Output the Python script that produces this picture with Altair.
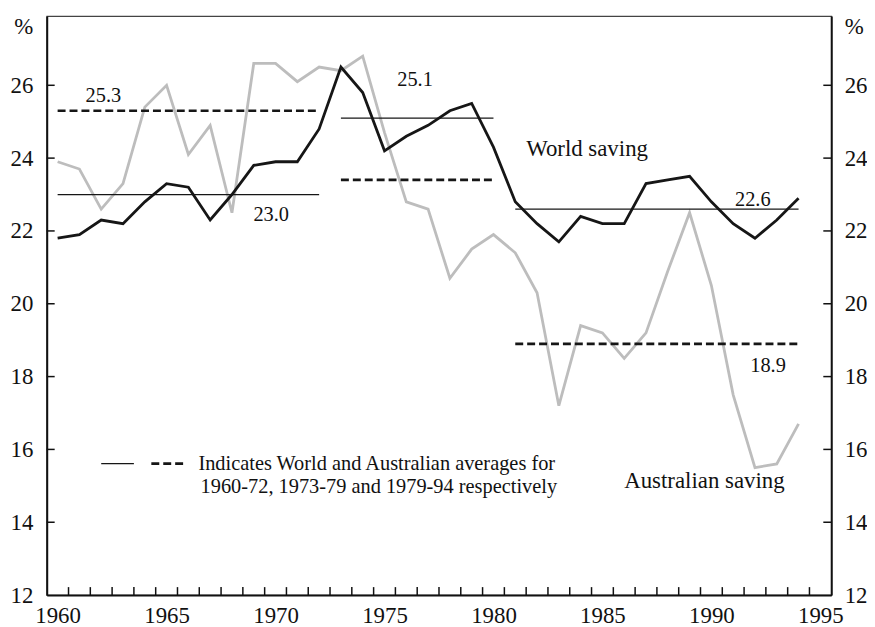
import altair as alt
import pandas as pd

# ---------------- data ----------------
years = list(range(1960, 1995))
world = [21.8, 21.9, 22.3, 22.2, 22.8, 23.3, 23.2, 22.3, 23.0, 23.8, 23.9, 23.9, 24.8,
         26.5, 25.8, 24.2, 24.6, 24.9, 25.3, 25.5, 24.3,
         22.8, 22.2, 21.7, 22.4, 22.2, 22.2, 23.3, 23.4, 23.5, 22.8, 22.2, 21.8, 22.3, 22.9]
australia = [23.9, 23.7, 22.6, 23.3, 25.4, 26.0, 24.1, 24.9, 22.5, 26.6, 26.6, 26.1, 26.5,
             26.4, 26.8, 24.7, 22.8, 22.6, 20.7, 21.5, 21.9,
             21.4, 20.3, 17.2, 19.4, 19.2, 18.5, 19.2, 20.9, 22.5, 20.5, 17.5, 15.5, 15.6, 16.7]

avg_start = [1960, 1973, 1981]
avg_end = [1972, 1980, 1994]
avg_world = [23.0, 25.1, 22.6]
avg_aus = [25.3, 23.4, 18.9]

# value labels (text, x-year, y-value)
num_text = ["25.3", "23.0", "25.1", "22.6", "18.9"]
num_x = [1962.1, 1969.8, 1976.4, 1991.9, 1992.6]
num_y = [25.54, 22.27, 25.97, 22.68, 18.13]

series_text = ["World saving", "Australian saving"]
series_x = [1981.5, 1986.0]
series_y = [24.05, 14.93]

legend_text = ["Indicates World and Australian averages for",
               "1960-72, 1973-79 and 1979-94 respectively"]
legend_x = [1966.46, 1966.56]
legend_y = [15.44, 14.80]

legend_solid = {"x": [1962.0], "x2": [1963.5], "y": [15.61]}
legend_dash = {"x": [1964.3], "x2": [1965.9], "y": [15.61]}

x_label_years = [1960, 1965, 1970, 1975, 1980, 1985, 1990, 1995]
y_label_values = [12, 14, 16, 18, 20, 22, 24, 26]
pct_pos = 27.6
x_tick_pos = [y + 0.5 for y in range(1960, 1995)]
y_tick_pos = [14, 16, 18, 20, 22, 24, 26]

# ---------------- chart ----------------
W, H = 790, 583
FONT = "Liberation Serif"

xscale = alt.Scale(domain=[1959.5, 1995.5], nice=False, zero=False)
yscale = alt.Scale(domain=[12, 27.9], nice=False, zero=False)

xaxis = alt.Axis(values=x_label_years, format="d", labelPadding=28,
                 labelBaseline="alphabetic", title=None)
yaxis_left = alt.Axis(values=y_label_values + [pct_pos], labelPadding=14,
                      labelExpr="datum.value > 27 ? '%' : datum.label",
                      title=None, orient="left")
yaxis_right = alt.Axis(values=y_label_values + [pct_pos], labelPadding=13,
                       labelExpr="datum.value > 27 ? '%' : datum.label",
                       title=None, orient="right")

series = pd.DataFrame({"year": years, "world": world, "aus": australia})
avgs = pd.DataFrame({"start": avg_start, "end": avg_end, "world": avg_world, "aus": avg_aus})
nums = pd.DataFrame({"x": num_x, "y": num_y, "t": num_text})
slabs = pd.DataFrame({"x": series_x, "y": series_y, "t": series_text})
ltext = pd.DataFrame({"x": legend_x, "y": legend_y, "t": legend_text})
xt = pd.DataFrame({"x": x_tick_pos})
yt = pd.DataFrame({"y": y_tick_pos})

aus_line = alt.Chart(series).mark_line(color="#bdbdbd", strokeWidth=2.8).encode(
    x=alt.X("year:Q", scale=xscale, axis=xaxis),
    y=alt.Y("aus:Q", scale=yscale, axis=yaxis_left),
)
world_line = alt.Chart(series).mark_line(color="#161616", strokeWidth=2.8).encode(
    x=alt.X("year:Q", scale=xscale, axis=xaxis),
    y=alt.Y("world:Q", scale=yscale, axis=yaxis_left),
)
world_avg = alt.Chart(avgs).mark_rule(color="#161616", strokeWidth=1.3).encode(
    x=alt.X("start:Q", scale=xscale, axis=xaxis), x2="end:Q",
    y=alt.Y("world:Q", scale=yscale, axis=yaxis_left)
)
aus_avg = alt.Chart(avgs).mark_rule(color="#161616", strokeWidth=2.7, strokeDash=[8, 4]).encode(
    x=alt.X("start:Q", scale=xscale, axis=xaxis), x2="end:Q",
    y=alt.Y("aus:Q", scale=yscale, axis=yaxis_left)
)
leg_solid = alt.Chart(pd.DataFrame(legend_solid)).mark_rule(color="#161616", strokeWidth=1.3).encode(
    x=alt.X("x:Q", scale=xscale, axis=xaxis), x2="x2:Q",
    y=alt.Y("y:Q", scale=yscale, axis=yaxis_left)
)
leg_dash = alt.Chart(pd.DataFrame(legend_dash)).mark_rule(color="#161616", strokeWidth=2.7,
                                                         strokeDash=[8, 4]).encode(
    x=alt.X("x:Q", scale=xscale, axis=xaxis), x2="x2:Q",
    y=alt.Y("y:Q", scale=yscale, axis=yaxis_left)
)
xticks = alt.Chart(xt).mark_rule(color="#111", strokeWidth=1.5).encode(
    x=alt.X("x:Q", scale=xscale, axis=xaxis), y=alt.value(H), y2=alt.value(H - 8)
)
yticks_l = alt.Chart(yt).mark_rule(color="#111", strokeWidth=1.5).encode(
    y=alt.Y("y:Q", scale=yscale, axis=yaxis_left), x=alt.value(0), x2=alt.value(8)
)
yticks_r = alt.Chart(yt).mark_rule(color="#111", strokeWidth=1.5).encode(
    y=alt.Y("y:Q", scale=yscale, axis=yaxis_right), x=alt.value(W - 8), x2=alt.value(W)
)
num_labels = alt.Chart(nums).mark_text(font=FONT, fontSize=20.5, color="#111", align="center",
                                       baseline="alphabetic").encode(
    x=alt.X("x:Q", scale=xscale, axis=xaxis), y=alt.Y("y:Q", scale=yscale, axis=yaxis_left),
    text="t:N"
)
series_labels = alt.Chart(slabs).mark_text(font=FONT, fontSize=23, color="#111", align="left",
                                           baseline="alphabetic").encode(
    x=alt.X("x:Q", scale=xscale, axis=xaxis), y=alt.Y("y:Q", scale=yscale, axis=yaxis_left),
    text="t:N"
)
legend_labels = alt.Chart(ltext).mark_text(font=FONT, fontSize=20.5, color="#111", align="left",
                                           baseline="alphabetic").encode(
    x=alt.X("x:Q", scale=xscale, axis=xaxis), y=alt.Y("y:Q", scale=yscale, axis=yaxis_left),
    text="t:N"
)

left_group = alt.layer(aus_line, world_line, world_avg, aus_avg, leg_solid, leg_dash,
                       xticks, yticks_l, num_labels, series_labels, legend_labels)
chart = alt.layer(left_group, yticks_r).resolve_axis(y="independent").properties(
    width=W, height=H,
    autosize=alt.AutoSizeParams(type="none"),
    padding={"left": 39, "top": 6, "right": 36, "bottom": 30},
).configure_view(stroke="#444", strokeWidth=1.2).configure_axis(
    labelFont=FONT, labelFontSize=23, labelColor="#111", ticks=False, tickSize=0,
    grid=False, domain=True, domainColor="#111", domainWidth=2,
    labelFlush=False, labelOverlap=False, labelBound=False,
)

chart.save("out.html", embed_options={"renderer": "svg", "actions": False})
